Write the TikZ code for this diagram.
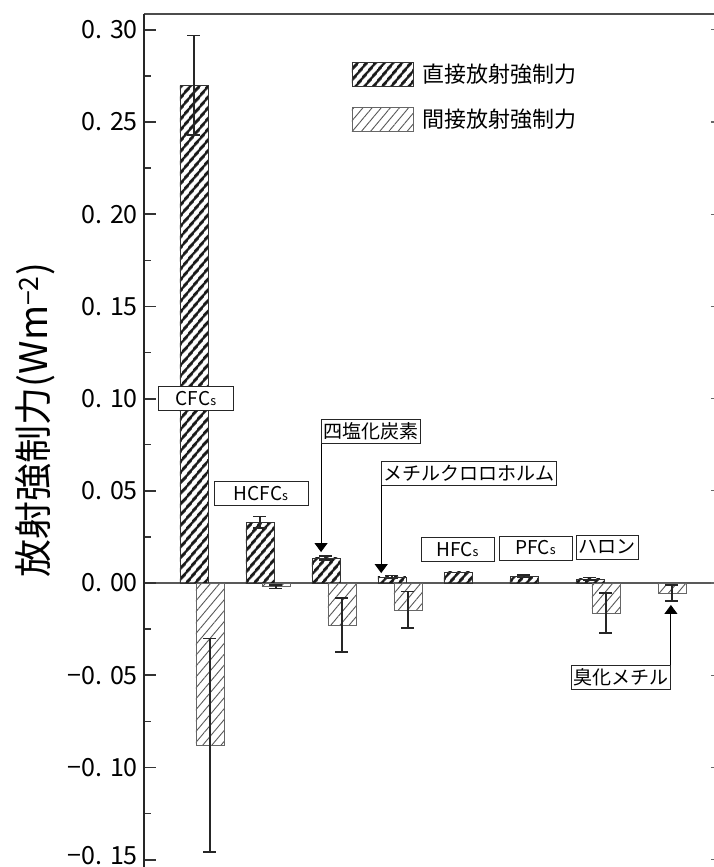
\documentclass[tikz,border=0pt]{standalone}
\usepackage{fontspec}
\newfontfamily\jpfont{Noto Sans CJK JP}
\usetikzlibrary{arrows.meta}
\usetikzlibrary{patterns.meta}

\newcommand{\ssuf}{{\fontsize{12.5}{12.5}\selectfont s}}
\newcommand{\ebar}[3]{\draw[errbar] (#1,#2) -- (#1,#3) (#1-6.5,#2) -- (#1+6.5,#2) (#1-6.5,#3) -- (#1+6.5,#3);}

\tikzset{
  direct/.style={draw=black!80, line width=0.8pt, pattern={Lines[angle=50,distance=6.5pt,line width=2.8pt]}, pattern color=black!90},
  indirect/.style={draw=black!60, line width=0.9pt, pattern={Lines[angle=50,distance=7pt,line width=0.9pt]}, pattern color=black!65},
  errbar/.style={line width=1.6pt, draw=black!85},
  tag/.style={draw=black!85, line width=0.9pt, fill=white, font=\jpfont\fontsize{19}{19}\selectfont, minimum height=24pt, inner sep=2pt},
  pointer/.style={-{Triangle[width=13pt,length=9pt]}, line width=0.9pt},
  ticklab/.style={anchor=east, font=\jpfont\fontsize{25}{25}\selectfont, inner sep=0pt},
}

\begin{document}
\begin{tikzpicture}[x=1pt, y=18.44pt]
                \fill[white] (0,-15.40) rectangle (714,31.62);
                \useasboundingbox (0,-15.40) rectangle (714,31.62);
                % axes
                \draw[line width=1.5pt, black!70] (144,30.86) -- (714,30.86);
                \draw[line width=1.2pt, black!65] (144,0) -- (714,0);
                \foreach \v/\lab in {30/0. 30, 25/0. 25, 20/0. 20, 15/0. 15, 10/0. 10, 5/0. 05, 0/0. 00, -5/−0. 05, -10/−0. 10} {
                    \draw[line width=1.8pt, black!80] (144,\v) -- (156,\v);
                    \draw[line width=1.2pt, black!60] (711,\v) -- (714,\v);
                    \node[ticklab] (tick\v) at (138,\v) {\lab};
                }
                \draw[line width=1.8pt, black!80] (144,-15) -- (156,-15);
                \draw[line width=1.2pt, black!60] (711,-15) -- (714,-15);
                \node[ticklab] (tick-15) at (138,-14.78) {−0. 15};
                \foreach \v in {27.5,22.5,...,-12.5}
                    \draw[line width=1.5pt, black!80] (144,\v) -- (151,\v);
                \draw[line width=2.2pt, black!85] (144,-15.40) -- (144,30.86);
                \node[rotate=90, font=\jpfont\fontsize{38}{38}\selectfont] (ylab) at (35,8.84) {放射強制力(Wm\textsuperscript{−2})};
                % legend
                \draw[direct] (352,26.95) rectangle (413,28.25);
                \draw[indirect] (352,24.51) rectangle (413,25.81);
                \node[anchor=west, font=\jpfont\fontsize{22}{22}\selectfont] (legdir) at (419,27.60) {直接放射強制力};
                \node[anchor=west, font=\jpfont\fontsize{22}{22}\selectfont] (legind) at (419,25.16) {間接放射強制力};
                % direct bars
                \draw[direct] (180,0) rectangle (208,27.0);
                \draw[direct] (246,0) rectangle (274,3.3);
                \draw[direct] (312,0) rectangle (340,1.36);
                \draw[direct] (378,0) rectangle (406,0.33);
                \draw[direct] (444,0) rectangle (472,0.6);
                \draw[direct] (510,0) rectangle (538,0.38);
                \draw[direct] (576,0) rectangle (604,0.22);
                % indirect bars
                \draw[indirect] (196,0) rectangle (224,-8.8);
                \draw[indirect] (262,0) rectangle (290,-0.2);
                \draw[indirect] (328,0) rectangle (356,-2.28);
                \draw[indirect] (394,0) rectangle (422,-1.46);
                \draw[indirect] (592,0) rectangle (620,-1.63);
                \draw[indirect] (658,0) rectangle (686,-0.54);
                % error bars
                \ebar{194}{24.3}{29.7}
                \ebar{260}{3.0}{3.6}
                \ebar{326}{1.26}{1.46}
                \ebar{392}{0.25}{0.4}
                \ebar{524}{0.3}{0.45}
                \ebar{590}{0.15}{0.3}
                \ebar{210}{-14.6}{-3.0}
                \ebar{276}{-0.3}{-0.1}
                \ebar{342}{-3.74}{-0.82}
                \ebar{408}{-2.44}{-0.46}
                \ebar{606}{-2.71}{-0.55}
                \ebar{672}{-0.98}{-0.11}
                % labels
                \node[tag, minimum width=75pt] (cfc) at (196,10.03) {CFC\ssuf};
                \node[tag, minimum width=94pt] (hcfc) at (261,4.88) {HCFC\ssuf};
                \node[tag, minimum width=98pt] (ccl4) at (371,8.24) {四塩化炭素};
                \node[tag, minimum width=170pt] (mcf) at (469,5.97) {メチルクロロホルム};
                \node[tag, minimum width=73pt] (hfc) at (457.5,1.84) {HFC\ssuf};
                \node[tag, minimum width=73pt] (pfc) at (535.5,1.90) {PFC\ssuf};
                \node[tag, minimum width=62pt] (halon) at (607,1.95) {ハロン};
                \node[tag, minimum width=98pt] (mebr) at (621,-5.12) {臭化メチル};
                \coordinate (ccl4tip) at (326,1.68);
                \coordinate (mcftip) at (392,0.54);
                \coordinate (mebrtip) at (672,-1.19);
                \draw[pointer] (ccl4.south west) -- (ccl4.south west |- ccl4tip);
                \draw[pointer] (mcf.south west) -- (mcf.south west |- mcftip);
                \draw[pointer] (mebr.north east) -- (mebr.north east |- mebrtip);
            \end{tikzpicture}
\end{document}
